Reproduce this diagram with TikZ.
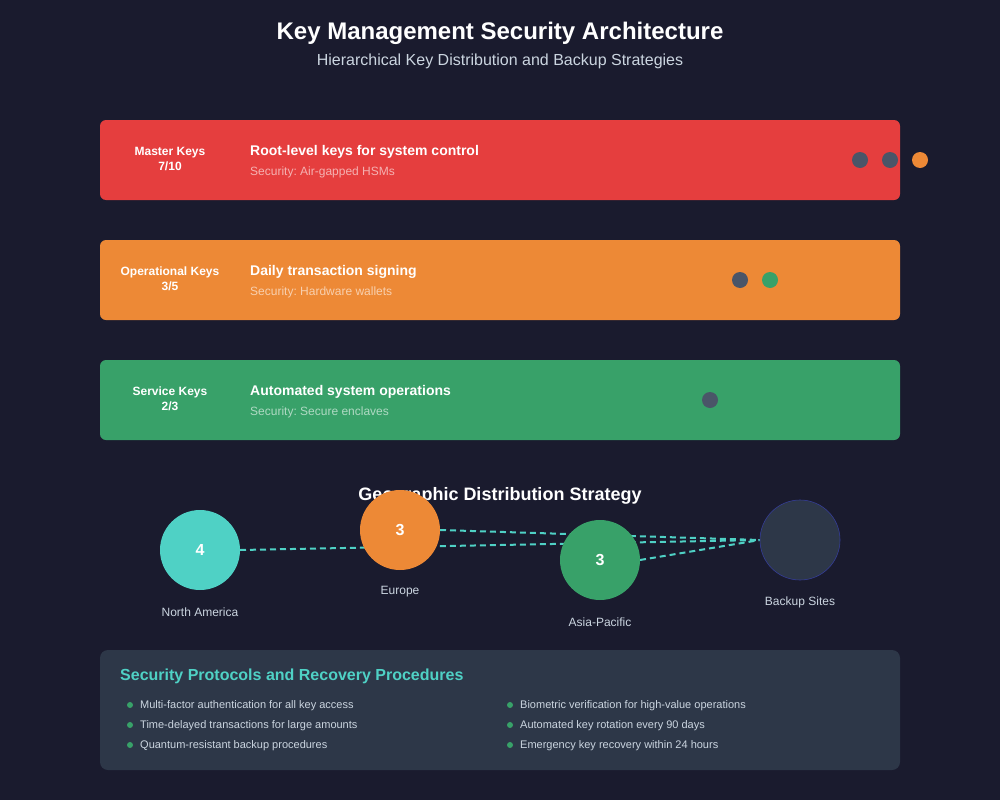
\documentclass[tikz,border=0pt]{standalone}
\usepackage{fontspec}
\setmainfont{Liberation Sans}
\frenchspacing
\definecolor{bg}{HTML}{1A1B2E}
\definecolor{cred}{HTML}{E53E3E}
\definecolor{corange}{HTML}{ED8936}
\definecolor{cgreen}{HTML}{38A169}
\definecolor{cteal}{HTML}{4FD1C5}
\definecolor{cgray}{HTML}{4A5568}
\definecolor{cpanel}{HTML}{2D3748}
\definecolor{csub}{HTML}{CBD5E0}
\definecolor{csec}{HTML}{A0AEC0}
\tikzset{
  card/.style={rounded corners=6pt, draw=none},
  lvl/.style={font=\bfseries\fontsize{12}{15}\selectfont, text=white, align=center, anchor=center},
  head/.style={font=\bfseries\fontsize{14}{16}\selectfont, text=white, anchor=west, inner sep=0pt},
  sec/.style={font=\fontsize{12}{14}\selectfont, text=white, text opacity=0.6, anchor=west, inner sep=0pt},
  sdot/.style={circle, minimum size=16pt, inner sep=0pt, draw=none},
  geo/.style={circle, minimum size=80pt, inner sep=0pt, draw=none, font=\bfseries\fontsize{16}{18}\selectfont, text=white},
  glabel/.style={font=\fontsize{12}{14}\selectfont, text=csub, inner sep=0pt},
  link/.style={cteal, line width=2pt, dash pattern=on 6pt off 4pt},
  item/.style={font=\fontsize{11}{13}\selectfont, text=csub, anchor=west, inner sep=0pt},
  bul/.style={circle, fill=cgreen, minimum size=6pt, inner sep=0pt},
}
\begin{document}
\begin{tikzpicture}[x=1pt,y=-1pt]
\fill[bg] (0,0) rectangle (1000,800);
\useasboundingbox (0,0) rectangle (1000,800);
% title
\node[font=\bfseries\fontsize{24}{28}\selectfont, text=white] (title) at (500,33.5) {Key Management Security Architecture};
\node[font=\fontsize{16}{19}\selectfont, text=csub] (subtitle) at (500,61) {Hierarchical Key Distribution and Backup Strategies};
% cards
\fill[card, cred] (100,120) rectangle (900,200);
\node[lvl] (l1) at (170,159) {Master Keys\\7/10};
\node[head] (h1) at (250,151.5) {Root-level keys for system control};
\node[sec] (s1) at (250,172) {Security: Air-gapped HSMs};
\node[sdot, fill=cgray] (d11) at (860,160) {};
\node[sdot, fill=cgray] (d12) at (890,160) {};
\node[sdot, fill=corange] (d13) at (920,160) {};

\fill[card, corange] (100,240) rectangle (900,320);
\node[lvl] (l2) at (170,279) {Operational Keys\\3/5};
\node[head] (h2) at (250,271.5) {Daily transaction signing};
\node[sec] (s2) at (250,292) {Security: Hardware wallets};
\node[sdot, fill=cgray] (d21) at (740,280) {};
\node[sdot, fill=cgreen] (d22) at (770,280) {};

\fill[card, cgreen] (100,360) rectangle (900,440);
\node[lvl] (l3) at (170,399) {Service Keys\\2/3};
\node[head] (h3) at (250,391.5) {Automated system operations};
\node[sec] (s3) at (250,412) {Security: Secure enclaves};
\node[sdot, fill=cgray] (d31) at (710,400) {};

% geographic
\node[font=\bfseries\fontsize{18}{21}\selectfont, text=white] (geotitle) at (500,495.5) {Geographic Distribution Strategy};
\coordinate (naE) at (240,550);
\coordinate (euE) at (440,530);
\coordinate (apE) at (640,560);
\coordinate (bkW) at (760,540);
\draw[link] (naE) -- (bkW);
\draw[link] (euE) -- (bkW);
\draw[link] (apE) -- (bkW);
\node[geo, fill=cteal] (na) at (200,550) {4};
\node[geo, fill=corange] (eu) at (400,530) {3};
\node[geo, fill=cgreen] (ap) at (600,560) {3};
\node[geo, fill=cpanel, draw=cgray!70!blue, line width=0.6pt] (bk) at (800,540) {};
\node[glabel] (nal) at (200,612) {North America};
\node[glabel] (eul) at (400,592) {Europe};
\node[glabel] (apl) at (600,622) {Asia-Pacific};
\node[glabel] (bkl) at (800,602) {Backup Sites};

% panel
\fill[cpanel, rounded corners=8pt] (100,650) rectangle (900,770);
\node[font=\bfseries\fontsize{16}{19}\selectfont, text=cteal, anchor=west, inner sep=0pt] (ptitle) at (120,676) {Security Protocols and Recovery Procedures};
\node[bul] (b1) at (130,705) {};
\node[item] (i1) at (140,706) {Multi-factor authentication for all key access};
\node[bul] (b2) at (130,725) {};
\node[item] (i2) at (140,726) {Time-delayed transactions for large amounts};
\node[bul] (b3) at (130,745) {};
\node[item] (i3) at (140,746) {Quantum-resistant backup procedures};
\node[bul] (b4) at (510,705) {};
\node[item] (i4) at (520,706) {Biometric verification for high-value operations};
\node[bul] (b5) at (510,725) {};
\node[item] (i5) at (520,726) {Automated key rotation every 90 days};
\node[bul] (b6) at (510,745) {};
\node[item] (i6) at (520,746) {Emergency key recovery within 24 hours};
\end{tikzpicture}
\end{document}
